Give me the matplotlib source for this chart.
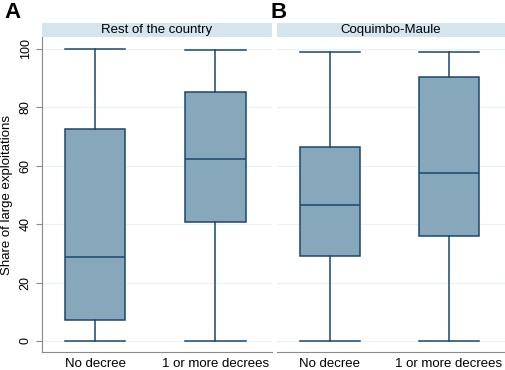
import matplotlib.pyplot as plt

# box statistics: whisker low, q1, median, q3, whisker high
categories = ["No decree", "1 or more decrees"]
panels = ["Rest of the country", "Coquimbo-Maule"]
letters = ["A", "B"]
rest_stats = [
    (0.0, 7.2, 28.8, 72.6, 100.0),
    (0.0, 40.8, 62.3, 85.3, 99.7),
]
coquimbo_stats = [
    (0.0, 29.1, 46.6, 66.4, 99.0),
    (0.0, 36.0, 57.5, 90.4, 99.0),
]
yticks = [0, 20, 40, 60, 80, 100]

EDGE = "#1a476f"
FILL = "#87a7ba"
STRIP = "#d5e5ec"
GRID = "#eaf2f3"

plt.rcParams["font.family"] = "Liberation Sans"

fig = plt.figure(figsize=(5.05, 3.7), dpi=100)
W, H = 505, 370
axes_px = [(42, 272), (277, 505)]
top_px, bottom_px = 37, 352
strip_px = 23


def to_stats(vals, label):
    lo, q1, med, q3, hi = vals
    return dict(whislo=lo, q1=q1, med=med, q3=q3, whishi=hi, label=label, fliers=[])


for i, (panel, stats) in enumerate(zip(panels, [rest_stats, coquimbo_stats])):
    x0, x1 = axes_px[i]
    ax = fig.add_axes([x0 / W, 1 - bottom_px / H, (x1 - x0) / W, (bottom_px - top_px) / H])
    bxp = [to_stats(s, c) for s, c in zip(stats, categories)]
    ax.bxp(bxp, positions=[1, 2], widths=0.5, patch_artist=True, showfliers=False,
           boxprops=dict(facecolor=FILL, edgecolor=EDGE, linewidth=1.1),
           medianprops=dict(color=EDGE, linewidth=1.1),
           whiskerprops=dict(color=EDGE, linewidth=1.1),
           capprops=dict(color=EDGE, linewidth=1.1),
           capwidths=0.5)
    ax.set_xlim(0.558, 2.47)
    ax.set_ylim(-3.8, 104.1)
    ax.set_yticks(yticks)
    ax.yaxis.grid(True, color=GRID, linewidth=0.9)
    ax.set_axisbelow(True)
    for s in ["top", "right"]:
        ax.spines[s].set_visible(False)
    ax.spines["bottom"].set_color("#8a8a8a")
    ax.spines["left"].set_color("#8a8a8a")
    ax.tick_params(axis="x", length=0, labelsize=9.5, pad=4)
    if i == 0:
        ax.tick_params(axis="y", labelsize=9, color="#8a8a8a", length=4, labelrotation=90)
        for lab in ax.get_yticklabels():
            lab.set_va("center")
        ax.set_ylabel("Share of large exploitations", fontsize=9.5, labelpad=5)
    else:
        ax.spines["left"].set_visible(False)
        ax.tick_params(axis="y", length=0, labelleft=False)

    # strip header
    sax = fig.add_axes([x0 / W, 1 - top_px / H, (x1 - x0) / W, (top_px - strip_px) / H])
    sax.set_facecolor(STRIP)
    sax.set_xticks([])
    sax.set_yticks([])
    for s in sax.spines.values():
        s.set_visible(False)
    sax.text(0.5, 0.5, panel, ha="center", va="center", fontsize=9.5, transform=sax.transAxes)

    fig.text((x0 - 38 if i == 0 else x0 - 6) / W, 1 - 12 / H, letters[i],
             fontsize=16, fontweight="bold", ha="left", va="center")

fig.savefig("out.png", dpi=100)
